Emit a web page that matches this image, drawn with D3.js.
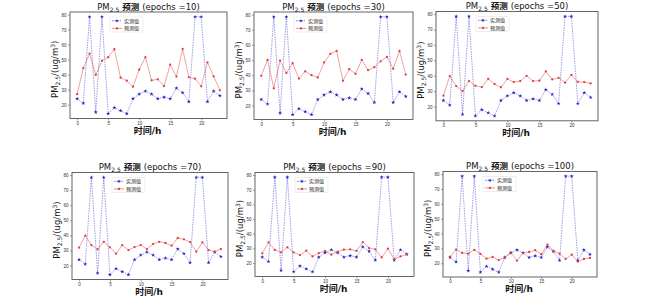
<!DOCTYPE html>
<html>
<head>
<meta charset="utf-8">
<script src="https://cdn.jsdelivr.net/npm/d3@7"></script>
<style>
  body { margin: 0; background: #fff; }
  svg { display: block; font-family: "DejaVu Sans", "Noto Sans CJK SC", sans-serif; }
  .tick text { font-size: 4.5px; fill: #333; }
  .tick line { stroke: #444; stroke-width: 0.5; }
  .domain { display: none; }
</style>
</head>
<body>
<div id="chart"></div>
<script>
// hours on the x axis
var hours = d3.range(0, 24);

// measured values (same in every panel)
var actual = [24, 21, 78.5, 15, 78.5, 14, 18, 16, 14, 24, 27, 29, 27, 24, 25, 24, 31, 28, 22, 78.5, 78.5, 22, 29, 26];

// predicted values for each number of epochs
var pred10 = [27, 44.4, 54, 39.8, 49.3, 51.6, 56.9, 38, 36, 32, 43.3, 51.6, 36.2, 36.9, 32.4, 46.7, 38.7, 57.1, 38.2, 37.3, 32.2, 48.2, 38.9, 29.6];
var pred30 = [39.6, 50.1, 31.4, 49.7, 41.5, 47.9, 37.8, 42.6, 40, 38.5, 48.4, 54.1, 56, 36.3, 44, 40.9, 50.1, 43.3, 45.3, 49.2, 52.1, 44.2, 56, 40.4];
var pred50 = [27.1, 39.8, 33.3, 30.1, 36.6, 33.5, 32.7, 38, 34.6, 32.5, 38, 35.9, 36.6, 40, 36.6, 36.8, 42.8, 37.6, 38.7, 35.5, 40.6, 36.1, 35.9, 35];
var pred70 = [31.9, 39.8, 33.6, 30.8, 35.8, 32.1, 27.9, 33.6, 30.3, 32.3, 33.6, 31, 34.3, 35.8, 35, 33.2, 38.3, 37.4, 35.6, 29.2, 35.4, 30.3, 29.2, 31];
var pred90 = [26.6, 34.1, 28.9, 27.3, 30.7, 27.3, 25.4, 28.4, 24.5, 26.8, 28.2, 25.7, 27.7, 29.1, 29.3, 28.2, 34.3, 30.2, 29.3, 23.8, 29.8, 22.7, 24.5, 25.9];
var pred100 = [24.3, 29.2, 27, 26.5, 29, 26.3, 23.1, 24.3, 22.2, 23.8, 27.4, 21.8, 27, 27.6, 28.8, 26.1, 32.6, 28.3, 26.5, 22.9, 25.8, 21.1, 22.9, 23.6];

var epochs = [10, 30, 50, 70, 90, 100];
var predictions = [pred10, pred30, pred50, pred70, pred90, pred100];

// tick labels
var xTicks = [0, 5, 10, 15, 20];
var yTicks = [20, 30, 40, 50, 60, 70, 80];
var legendLabels = ["实测值", "预测值"];

var width = 650;
var height = 299;

// frame of every subplot (left, right, top, bottom)
var frames = [
	{l: 70, r: 227, t: 12, b: 118.5},
	{l: 254, r: 413, t: 12, b: 119.5},
	{l: 436, r: 598, t: 11.5, b: 120.8},
	{l: 72, r: 228, t: 172.5, b: 279.5},
	{l: 255, r: 414, t: 172.5, b: 276.5},
	{l: 443, r: 597, t: 171.5, b: 277}
];

var blue = "#2323c8";
var red = "#e03a3a";

var svg = d3.select("#chart")
	.append("svg")
	.attr("width", width)
	.attr("height", height);

// star path for the measured markers
var star = d3.symbol().type(d3.symbolStar).size(5);
var dot = d3.symbol().type(d3.symbolCircle).size(4);

function drawPanel(k) {
	var f = frames[k];

	var x = d3.scaleLinear()
		.domain([-1.15, 24.15])
		.range([f.l, f.r]);
	var y = d3.scaleLinear()
		.domain([10.8, 81.7])
		.range([f.b, f.t]);

	var g = svg.append("g");

	// axes
	g.append("g")
		.attr("class", "axis")
		.attr("transform", "translate(0," + f.b + ")")
		.call(d3.axisBottom(x).tickValues(xTicks).tickSize(2).tickPadding(2))
		.selectAll("text").attr("dy", "0.5em");
	g.append("g")
		.attr("class", "axis")
		.attr("transform", "translate(" + f.l + ",0)")
		.call(d3.axisLeft(y).tickValues(yTicks).tickSize(2).tickPadding(1.5));

	// measured series
	var line = d3.line()
		.x(function(d, i) { return x(hours[i]); })
		.y(function(d) { return y(d); });

	g.append("path")
		.attr("d", line(actual))
		.attr("fill", "none")
		.attr("stroke", blue)
		.attr("stroke-opacity", 0.75)
		.attr("stroke-width", 0.6)
		.attr("stroke-dasharray", "1.5,1");
	g.selectAll(".ma")
		.data(actual)
		.enter()
		.append("path")
		.attr("transform", function(d, i) { return "translate(" + x(hours[i]) + "," + y(d) + ")"; })
		.attr("d", star)
		.attr("fill", blue);

	// predicted series
	g.append("path")
		.attr("d", line(predictions[k]))
		.attr("fill", "none")
		.attr("stroke", red)
		.attr("stroke-opacity", 0.8)
		.attr("stroke-width", 0.6);
	g.selectAll(".mp")
		.data(predictions[k])
		.enter()
		.append("path")
		.attr("transform", function(d, i) { return "translate(" + x(hours[i]) + "," + y(d) + ")"; })
		.attr("d", dot)
		.attr("fill", red);

	// frame
	g.append("rect")
		.attr("x", f.l)
		.attr("y", f.t)
		.attr("width", f.r - f.l)
		.attr("height", f.b - f.t)
		.attr("fill", "none")
		.attr("stroke", "#555")
		.attr("stroke-width", 0.9);

	// legend
	var lx = f.l + 40;
	var ly = f.t + 5;
	g.append("rect")
		.attr("x", lx)
		.attr("y", ly)
		.attr("width", 33)
		.attr("height", 15)
		.attr("fill", "#fff")
		.attr("stroke", "#ddd")
		.attr("stroke-width", 0.5)
		.attr("rx", 1);
	[blue, red].forEach(function(c, j) {
		var yy = ly + 3.8 + j * 7.6;
		g.append("line")
			.attr("x1", lx + 2)
			.attr("x2", lx + 12)
			.attr("y1", yy)
			.attr("y2", yy)
			.attr("stroke", c)
			.attr("stroke-width", 0.6)
			.attr("stroke-dasharray", j == 0 ? "1.5,1" : null);
		g.append("path")
			.attr("transform", "translate(" + (lx + 7) + "," + yy + ")")
			.attr("d", j == 0 ? star : dot)
			.attr("fill", c);
		g.append("text")
			.attr("x", lx + 14)
			.attr("y", yy + 1.8)
			.style("font-size", "5px")
			.style("fill", "#222")
			.text(legendLabels[j]);
	});

	// title
	var title = g.append("text")
		.attr("x", (f.l + f.r) / 2)
		.attr("y", f.t - 2.5)
		.style("text-anchor", "middle")
		.style("font-size", "8.5px")
		.style("fill", "#111");
	title.append("tspan").text("PM");
	title.append("tspan").attr("dy", 2).style("font-size", "6px").text("2.5");
	title.append("tspan").attr("dy", -2).style("font-weight", "bold").text(" 预测 ");
	title.append("tspan").text("(epochs =" + epochs[k] + ")");

	// x label
	g.append("text")
		.attr("x", (f.l + f.r) / 2 - 1)
		.attr("y", f.b + 15)
		.style("text-anchor", "middle")
		.style("font-size", "9px")
		.style("font-weight", "bold")
		.style("fill", "#111")
		.text("时间/h");

	// y label
	var yl = g.append("text")
		.attr("transform", "translate(" + (f.l - 12) + "," + ((f.t + f.b) / 2 + 4) + ") rotate(-90)")
		.style("text-anchor", "middle")
		.style("font-size", "8.5px")
		.style("fill", "#111");
	yl.append("tspan").text("PM");
	yl.append("tspan").attr("dy", 2).style("font-size", "6px").text("2.5");
	yl.append("tspan").attr("dy", -2).text("/(ug/m");
	yl.append("tspan").attr("dy", -3).style("font-size", "6px").text("3");
	yl.append("tspan").attr("dy", 3).text(")");
}

for (var k = 0; k < frames.length; k++) {
	drawPanel(k);
}
</script>
</body>
</html>
